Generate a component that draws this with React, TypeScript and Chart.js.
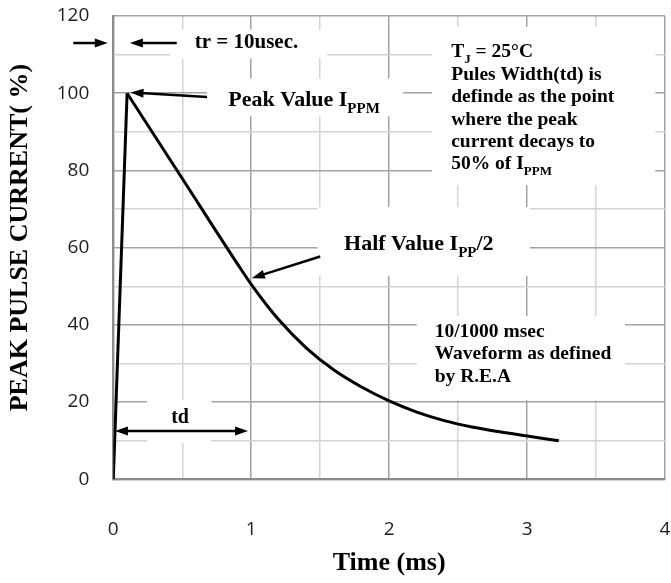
import { useEffect, useRef } from 'react';
import { Chart, registerables } from 'chart.js';

Chart.register(...registerables);

// ---- data (time in ms, current in % of IPPM) ----
const riseTime = [0, 0.1];
const riseCurrent = [0, 100];
const decayTime = [0.1, 0.5, 0.9, 1.0, 1.2, 1.4, 1.6, 1.8, 2.0, 2.2, 2.4, 2.6, 2.8, 3.0, 3.23];
const decayCurrent = [100, 77.9, 55.8, 50.5, 41.3, 34.0, 28.3, 23.9, 20.3, 17.4, 15.2, 13.55, 12.3, 11.2, 10.0];

const xMin = 0;
const xMax = 4;
const yMin = 0;
const yMax = 120;
const xGridStep = 0.5;
const yGridStep = 10;
const xLabelStep = 1;
const yLabelStep = 20;

const xTitle = 'Time (ms)';
const yTitle = 'PEAK PULSE CURRENT( %)';

const SERIF = '"Liberation Serif", "Times New Roman", serif';
const SANS = '"Open Sans", "Noto Sans", sans-serif';

type Seg = { t: string; sub?: boolean };

// annotation texts (positions in data units: x in ms, y in %)
const trText: Seg[] = [{ t: 'tr = 10usec.' }];
const peakText: Seg[] = [{ t: 'Peak Value I' }, { t: 'PPM', sub: true }];
const halfText: Seg[] = [{ t: 'Half Value I' }, { t: 'PP', sub: true }, { t: '/2' }];
const tdText: Seg[] = [{ t: 'td' }];
const noteLines: Seg[][] = [
  [{ t: 'T' }, { t: 'J', sub: true }, { t: ' = 25°C' }],
  [{ t: 'Pules Width(td) is' }],
  [{ t: 'definde as the point' }],
  [{ t: 'where the peak' }],
  [{ t: 'current decays to' }],
  [{ t: '50% of I' }, { t: 'PPM', sub: true }],
];
const waveLines: Seg[][] = [
  [{ t: '10/1000 msec' }],
  [{ t: 'Waveform as defined' }],
  [{ t: 'by R.E.A' }],
];

function drawRich(ctx: CanvasRenderingContext2D, segs: Seg[], x: number, y: number, size: number, align: 'left' | 'center' = 'left') {
  const fontFor = (s: Seg) => `bold ${s.sub ? Math.round(size * 0.66) : size}px ${SERIF}`;
  let total = 0;
  for (const s of segs) {
    ctx.font = fontFor(s);
    total += ctx.measureText(s.t).width;
  }
  let cx = align === 'center' ? x - total / 2 : x;
  ctx.textAlign = 'left';
  ctx.textBaseline = 'alphabetic';
  for (const s of segs) {
    ctx.font = fontFor(s);
    ctx.fillText(s.t, cx, s.sub ? y + size * 0.3 : y);
    cx += ctx.measureText(s.t).width;
  }
}

function arrowHead(ctx: CanvasRenderingContext2D, tipX: number, tipY: number, fromX: number, fromY: number) {
  const ang = Math.atan2(tipY - fromY, tipX - fromX);
  const len = 13;
  const half = 4.5;
  ctx.beginPath();
  ctx.moveTo(tipX, tipY);
  ctx.lineTo(tipX - len * Math.cos(ang) + half * Math.sin(ang), tipY - len * Math.sin(ang) - half * Math.cos(ang));
  ctx.lineTo(tipX - len * Math.cos(ang) - half * Math.sin(ang), tipY - len * Math.sin(ang) + half * Math.cos(ang));
  ctx.closePath();
  ctx.fill();
}

function arrow(ctx: CanvasRenderingContext2D, x1: number, y1: number, x2: number, y2: number, both = false) {
  const ang = Math.atan2(y2 - y1, x2 - x1);
  ctx.beginPath();
  ctx.moveTo(both ? x1 + 10 * Math.cos(ang) : x1, both ? y1 + 10 * Math.sin(ang) : y1);
  ctx.lineTo(x2 - 10 * Math.cos(ang), y2 - 10 * Math.sin(ang));
  ctx.stroke();
  arrowHead(ctx, x2, y2, x1, y1);
  if (both) arrowHead(ctx, x1, y1, x2, y2);
}

const annotationPlugin = {
  id: 'pulseAnnotations',
  beforeDatasetsDraw(chart: any) {
    const ctx: CanvasRenderingContext2D = chart.ctx;
    const xs = chart.scales.x;
    const ys = chart.scales.y;
    const X = (v: number) => xs.getPixelForValue(v);
    const Y = (v: number) => ys.getPixelForValue(v);
    const box = (x1: number, x2: number, y1: number, y2: number) => {
      ctx.fillRect(X(x1), Y(y1), X(x2) - X(x1), Y(y2) - Y(y1));
    };
    ctx.save();
    // white label backgrounds hiding the grid
    ctx.fillStyle = '#ffffff';
    box(0.41, 1.55, 116.5, 109);
    box(0.68, 2.1, 103.8, 94);
    box(2.31, 3.93, 117.2, 76.2);
    box(1.48, 3.02, 70.5, 52.7);
    box(0.245, 0.71, 20.5, 9.4);
    box(2.2, 3.71, 42.3, 20.5);

    ctx.fillStyle = '#000';
    ctx.strokeStyle = '#000';
    ctx.lineWidth = 2.5;
    // tr arrows
    arrow(ctx, X(-0.29), Y(113), X(-0.04), Y(113));
    arrow(ctx, X(0.46), Y(113), X(0.12), Y(113));
    drawRich(ctx, trText, X(0.59), Y(111.6), 21);
    // peak
    arrow(ctx, X(0.68), Y(99), X(0.125), Y(100.2));
    drawRich(ctx, peakText, X(0.834), Y(96.7), 22);
    // half value
    arrow(ctx, X(1.5), Y(57.7), X(1.004), Y(52.1));
    drawRich(ctx, halfText, X(1.673), Y(59.4), 22);
    // td
    arrow(ctx, X(0.012), Y(12.5), X(0.977), Y(12.5), true);
    drawRich(ctx, tdText, X(0.484), Y(14.5), 20, 'center');
    // notes
    const lineStep = 22.4;
    noteLines.forEach((l, i) => drawRich(ctx, l, X(2.45), Y(109.3) + i * lineStep, 19.5));
    waveLines.forEach((l, i) => drawRich(ctx, l, X(2.33), Y(36.9) + i * lineStep, 19.5));
    ctx.restore();
  },
  afterDraw(chart: any) {
    const ctx: CanvasRenderingContext2D = chart.ctx;
    const ys = chart.scales.y;
    ctx.save();
    ctx.translate(chart.chartArea.left - 93, ys.getPixelForValue(62.6));
    ctx.rotate(-Math.PI / 2);
    ctx.font = `bold 26px ${SERIF}`;
    ctx.fillStyle = '#000';
    ctx.textAlign = 'center';
    ctx.textBaseline = 'middle';
    ctx.fillText(yTitle, 0, 0);
    ctx.restore();
  },
};

const MAJOR = '#a3a3a3';
const MINOR = '#d4d4d4';

export default function App() {
  const canvasRef = useRef<HTMLCanvasElement | null>(null);

  useEffect(() => {
    if (!canvasRef.current) return;
    const chart = new Chart(canvasRef.current, {
      type: 'line',
      data: {
        datasets: [
          {
            data: riseTime.map((t, i) => ({ x: t, y: riseCurrent[i] })),
            borderColor: '#000',
            borderWidth: 3,
            pointRadius: 0,
            tension: 0,
          },
          {
            data: decayTime.map((t, i) => ({ x: t, y: decayCurrent[i] })),
            borderColor: '#000',
            borderWidth: 3,
            pointRadius: 0,
            cubicInterpolationMode: 'monotone',
          },
        ],
      },
      options: {
        animation: false,
        responsive: true,
        maintainAspectRatio: false,
        layout: { padding: { top: 16, right: 6, left: 0, bottom: 0 } },
        plugins: { legend: { display: false }, tooltip: { enabled: false } },
        scales: {
          x: {
            type: 'linear',
            min: xMin,
            max: xMax,
            afterFit: (s: any) => { s.height = 103.7; },
            ticks: {
              stepSize: xGridStep,
              autoSkip: false,
              maxRotation: 0,
              padding: 0,
              color: '#1e1e1e',
              font: { family: SANS, size: 19 },
              callback: (v: any) => (Math.abs(v / xLabelStep - Math.round(v / xLabelStep)) < 1e-6 ? String(v) : ''),
            },
            grid: {
              drawTicks: true,
              tickLength: 39,
              tickColor: 'rgba(0,0,0,0)',
              lineWidth: 1.5,
              color: (c: any) => (c.tick && Math.abs(c.tick.value % 1) < 1e-6 ? MAJOR : MINOR),
            },
            border: { color: '#8c8c8c', width: 2 },
            title: {
              display: true,
              text: xTitle,
              color: '#000',
              font: { family: SERIF, size: 26, weight: 'bold', lineHeight: 1.2 },
              padding: { top: 0, bottom: 4 },
            },
          },
          y: {
            type: 'linear',
            min: yMin,
            max: yMax,
            afterFit: (s: any) => { s.width = 113.3; },
            ticks: {
              stepSize: yGridStep,
              autoSkip: false,
              padding: 0,
              color: '#1e1e1e',
              font: { family: SANS, size: 19 },
              callback: (v: any) => (v % yLabelStep === 0 ? String(v) : ''),
            },
            grid: {
              drawTicks: true,
              tickLength: 24,
              tickColor: 'rgba(0,0,0,0)',
              lineWidth: 1.5,
              color: (c: any) => (c.tick && c.tick.value % yLabelStep === 0 ? MAJOR : MINOR),
            },
            border: { color: '#8c8c8c', width: 2 },
          },
        },
      },
      plugins: [annotationPlugin],
    } as any);
    return () => chart.destroy();
  }, []);

  return (
    <div style={{ position: 'fixed', left: 0, top: 0, width: 671, height: 583, background: '#fff' }}>
      <canvas ref={canvasRef} />
    </div>
  );
}
